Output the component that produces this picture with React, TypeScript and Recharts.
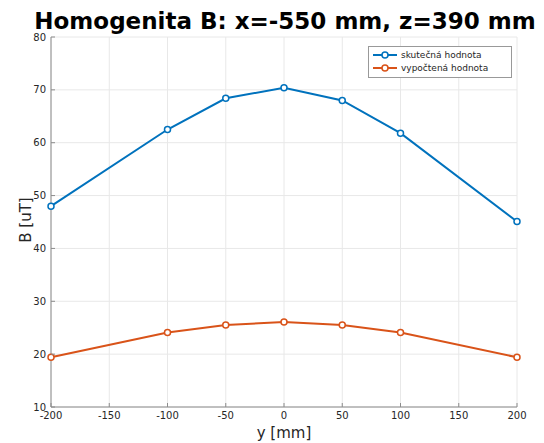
import React from "react";
import {
  LineChart,
  Line,
  XAxis,
  YAxis,
  CartesianGrid,
} from "recharts";

// positions along y [mm]
const yPositions = [-200, -100, -50, 0, 50, 100, 200];
// measured field
const measured = [48.0, 62.5, 68.4, 70.4, 68.0, 61.8, 45.1];
// calculated field
const calculated = [19.4, 24.1, 25.5, 26.1, 25.5, 24.1, 19.4];

const xTicks = [-200, -150, -100, -50, 0, 50, 100, 150, 200];
const yTicks = [10, 20, 30, 40, 50, 60, 70, 80];

const seriesNames = ["skutečná hodnota", "vypočtená hodnota"];
const seriesColors = ["#0072BD", "#D95319"];

const W = 544;
const H = 443;
const FONT = "'DejaVu Sans', sans-serif";
const AXIS = "#8c8c8c";

const chartData = yPositions.map((y, i) => ({
  y,
  measured: measured[i],
  calculated: calculated[i],
}));

const BottomTick = (props: any) => {
  const { x, y, payload } = props;
  const axisY = y - 4;
  return (
    <g>
      <line x1={x} x2={x} y1={axisY} y2={axisY - 4} stroke={AXIS} />
      <text
        x={x}
        y={y}
        dy="0.8em"
        textAnchor="middle"
        fontSize={10}
        fontFamily={FONT}
        fill="#262626"
      >
        {payload.value}
      </text>
    </g>
  );
};

const LeftTick = (props: any) => {
  const { x, y, payload } = props;
  const axisX = x + 5;
  return (
    <g>
      <line x1={axisX} x2={axisX + 4} y1={y} y2={y} stroke={AXIS} />
      <text
        x={x}
        y={y}
        dy="0.36em"
        textAnchor="end"
        fontSize={10}
        fontFamily={FONT}
        fill="#262626"
      >
        {payload.value}
      </text>
    </g>
  );
};

const TopTick = (props: any) => {
  const { x, y } = props;
  return <line x1={x} x2={x} y1={y} y2={y + 4} stroke={AXIS} />;
};

const RightTick = (props: any) => {
  const { x, y } = props;
  return <line x1={x} x2={x - 4} y1={y} y2={y} stroke={AXIS} />;
};

export default function App() {
  return (
    <div
      style={{
        position: "absolute",
        left: 0,
        top: 0,
        width: W,
        height: H,
        background: "#fff",
      }}
    >
      <LineChart
        width={W}
        height={H}
        data={chartData}
        margin={{ top: 37, right: 27, bottom: 16, left: 11 }}
      >
        <CartesianGrid stroke="#e8e8e8" horizontal vertical />
        <XAxis
          dataKey="y"
          type="number"
          domain={[-200, 200]}
          ticks={xTicks}
          height={20}
          tickSize={0}
          tickMargin={4}
          stroke={AXIS}
          tick={<BottomTick />}
          interval={0}
        />
        <XAxis
          xAxisId="top"
          dataKey="y"
          type="number"
          orientation="top"
          domain={[-200, 200]}
          ticks={xTicks}
          height={0}
          tickSize={0}
          stroke={AXIS}
          tick={<TopTick />}
          interval={0}
        />
        <YAxis
          type="number"
          domain={[10, 80]}
          ticks={yTicks}
          width={40}
          tickSize={0}
          tickMargin={5}
          stroke={AXIS}
          tick={<LeftTick />}
          interval={0}
        />
        <YAxis
          yAxisId="right"
          orientation="right"
          type="number"
          domain={[10, 80]}
          ticks={yTicks}
          width={0}
          tickSize={0}
          stroke={AXIS}
          tick={<RightTick />}
          interval={0}
        />
        <Line
          dataKey="measured"
          stroke={seriesColors[0]}
          strokeWidth={2}
          dot={{ r: 3, fill: "#fff", stroke: seriesColors[0], strokeWidth: 1.5 }}
          isAnimationActive={false}
        />
        <Line
          dataKey="calculated"
          stroke={seriesColors[1]}
          strokeWidth={2}
          dot={{ r: 3, fill: "#fff", stroke: seriesColors[1], strokeWidth: 1.5 }}
          isAnimationActive={false}
        />
      </LineChart>
      <svg
        width={W}
        height={H}
        style={{ position: "absolute", left: 0, top: 0, pointerEvents: "none" }}
      >
        <text
          x={285}
          y={29}
          textAnchor="middle"
          fontSize={23}
          fontWeight="bold"
          fontFamily={FONT}
          fill="#000"
        >
          Homogenita B: x=-550 mm, z=390 mm
        </text>
        <text
          x={284}
          y={438}
          textAnchor="middle"
          fontSize={15}
          fontFamily={FONT}
          fill="#262626"
        >
          y [mm]
        </text>
        <text
          x={31}
          y={220}
          textAnchor="middle"
          fontSize={15}
          fontFamily={FONT}
          fill="#262626"
          transform="rotate(-90 31 220)"
        >
          B [uT]
        </text>
        <rect x={368.5} y={46.5} width={143} height={31} fill="#fff" stroke="#999" strokeWidth={1} />
        {seriesNames.map((name, i) => {
          const cy = 55 + i * 13;
          return (
            <g key={name}>
              <line x1={373} x2={397} y1={cy} y2={cy} stroke={seriesColors[i]} strokeWidth={2} />
              <circle cx={385} cy={cy} r={3} fill="#fff" stroke={seriesColors[i]} strokeWidth={1.5} />
              <text x={401} y={cy} dy="0.35em" fontSize={9} fontFamily={FONT} fill="#262626">
                {name}
              </text>
            </g>
          );
        })}
      </svg>
    </div>
  );
}
